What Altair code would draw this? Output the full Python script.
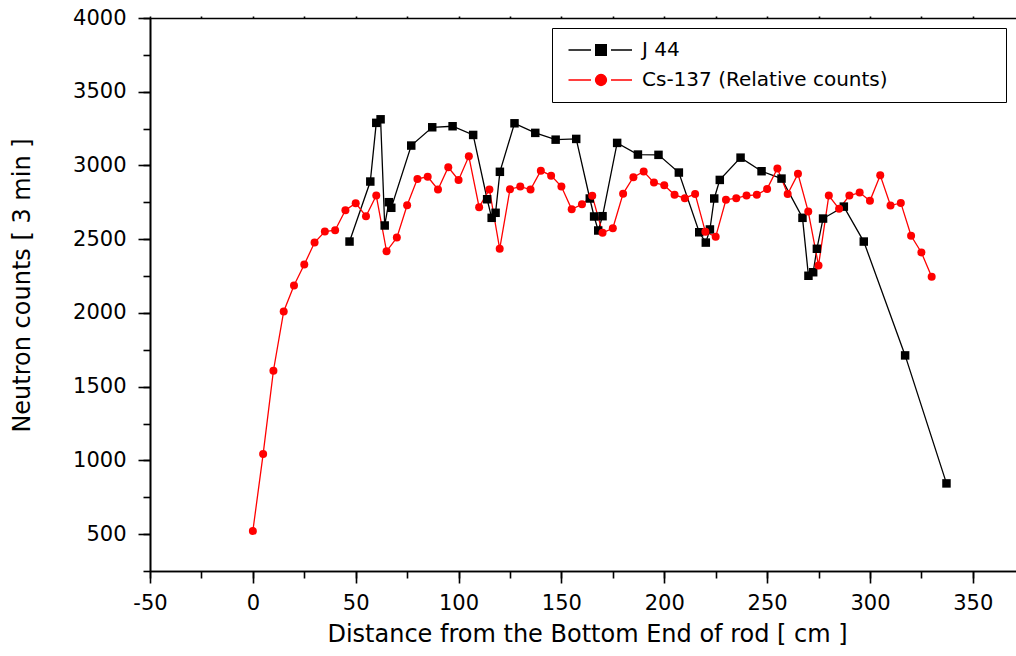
import altair as alt
import pandas as pd

FONT = "DejaVu Sans"

# ---- data ----
series_names = ["J 44", "Cs-137 (Relative counts)"]
series_colors = ["black", "#ff0000"]

j44_x = [47.0, 57.1, 60.0, 62.1, 64.1, 66.1, 67.3, 77.0, 87.2, 97.1, 107.1,
         113.9, 116.1, 118.0, 120.1, 127.2, 137.3, 147.2, 157.2, 163.8, 165.9,
         167.9, 170.0, 177.1, 187.2, 197.2, 207.1, 217.0, 220.2, 222.2, 224.3,
         227.0, 237.1, 247.3, 257.0, 267.2, 270.1, 272.4, 274.2, 277.2, 287.3,
         297.0, 317.1, 337.2]
j44_y = [2484, 2891, 3289, 3313, 2593, 2751, 2713, 3135, 3259, 3266, 3207,
         2771, 2645, 2679, 2957, 3286, 3221, 3175, 3180, 2776, 2654,
         2559, 2656, 3153, 3074, 3072, 2952, 2547, 2477, 2566, 2776,
         2902, 3053, 2961, 2911, 2645, 2252, 2276, 2435, 2640, 2721,
         2484, 1712, 844]

cs_x = [0, 5, 10, 15, 20, 25, 30, 35, 40, 45, 50, 55, 60, 65, 70, 75, 80, 85,
        90, 95, 100, 105, 110, 115, 120, 125, 130, 135, 140, 145, 150, 155,
        160, 165, 170, 175, 180, 185, 190, 195, 200, 205, 210, 215, 220, 225,
        230, 235, 240, 245, 250, 255, 260, 265, 270, 275, 280, 285, 290, 295,
        300, 305, 310, 315, 320, 325, 330]
cs_y = [521, 1043, 1608, 2010, 2186, 2328, 2477, 2552, 2561, 2696, 2744, 2656,
        2796, 2418, 2511, 2730, 2909, 2923, 2837, 2988, 2902, 3062, 2717, 2837,
        2435, 2839, 2857, 2837, 2965, 2931, 2857, 2703, 2737, 2794, 2543, 2574,
        2809, 2920, 2959, 2884, 2866, 2801, 2778, 2807, 2550, 2516, 2767, 2778,
        2796, 2801, 2841, 2979, 2807, 2943, 2687, 2322, 2796, 2706, 2796, 2816,
        2760, 2933, 2728, 2746, 2523, 2410, 2245]

x_major_ticks = [-50, 0, 50, 100, 150, 200, 250, 300, 350]
x_minor_ticks = [-50, -25, 0, 25, 50, 75, 100, 125, 150, 175, 200, 225, 250,
                 275, 300, 325, 350]
y_major_ticks = [500, 1000, 1500, 2000, 2500, 3000, 3500, 4000]
y_minor_ticks = [250, 500, 750, 1000, 1250, 1500, 1750, 2000, 2250, 2500,
                 2750, 3000, 3250, 3500, 3750, 4000]

df_j = pd.DataFrame({"x": j44_x, "y": j44_y, "series": series_names[0]})
df_c = pd.DataFrame({"x": cs_x, "y": cs_y, "series": series_names[1]})
df_all = pd.concat([df_j, df_c], ignore_index=True)

xscale = alt.Scale(domain=[-50, 371], nice=False, zero=False)
yscale = alt.Scale(domain=[250, 4000], nice=False, zero=False)

common_axis = dict(grid=False, domainColor="black", domainWidth=1.6,
                   tickColor="black", tickWidth=1.6)
plain_label = "'' + datum.value"

x_minor = alt.Axis(orient="bottom", values=x_minor_ticks, labels=False,
                   tickSize=7, **common_axis)
x_major = alt.Axis(orient="bottom", values=x_major_ticks, tickSize=12,
                   labelFont=FONT, labelFontSize=21, labelColor="black",
                   labelPadding=9, labelFlush=False, labelOverlap=False,
                   labelExpr=plain_label,
                   titleFont=FONT, titleFontSize=24, titleFontWeight="normal",
                   titleColor="black", titleX=437, titleY=63,
                   titleBaseline="middle", titleAlign="center",
                   **common_axis)
x_top = alt.Axis(orient="top", values=x_minor_ticks, labels=False,
                 tickSize=2, **common_axis)
y_minor = alt.Axis(orient="left", values=y_minor_ticks, labels=False,
                   tickSize=7, **common_axis)
y_major = alt.Axis(orient="left", values=y_major_ticks, tickSize=12,
                   labelFont=FONT, labelFontSize=21, labelColor="black",
                   labelPadding=12, labelFlush=False, labelOverlap=False,
                   labelExpr=plain_label,
                   titleFont=FONT, titleFontSize=24, titleFontWeight="normal",
                   titleColor="black", titleX=-128, titleY=267,
                   titleAngle=-90, titleBaseline="middle", titleAlign="center",
                   **common_axis)

# legend symbols: line - marker - line
path_sq = "M-6.5,0H-2M-1.07,-1.07H1.07V1.07H-1.07ZM2,0H6.2"
path_ci = "M-6.5,0H-2M1.1,0A1.1,1.1,0,1,1,-1.1,0A1.1,1.1,0,1,1,1.1,0ZM2,0H6.2"

legend = alt.Legend(
    title="\u2002", titleOrient="right", titlePadding=106, titleFontSize=20,
    orient="none", legendX=402, legendY=10,
    strokeColor="black", padding=12, rowPadding=10,
    labelFont=FONT, labelFontSize=20, labelColor="black", labelLimit=600,
    symbolSize=100, symbolOffset=27, labelOffset=31, symbolStrokeWidth=1.3,
    symbolOpacity=1,
)

line_j = alt.Chart(df_j).mark_line(color="black", strokeWidth=1.3).encode(
    x=alt.X("x:Q", scale=xscale, axis=x_minor, title=None),
    y=alt.Y("y:Q", scale=yscale, axis=y_minor, title=None),
)
line_c = alt.Chart(df_c).mark_line(color="#ff0000", strokeWidth=1.3).encode(
    x=alt.X("x:Q", scale=xscale, axis=x_top, title=None),
    y=alt.Y("y:Q", scale=yscale, axis=None),
)
pts_j = alt.Chart(df_j).mark_square(color="black", size=72, opacity=1).encode(
    x=alt.X("x:Q", scale=xscale, axis=x_major,
            title="Distance from the Bottom End of rod [ cm ]"),
    y=alt.Y("y:Q", scale=yscale, axis=y_major,
            title="Neutron counts [ 3 min ]"),
)
pts_c = alt.Chart(df_c).mark_circle(color="#ff0000", size=64, opacity=1).encode(
    x=alt.X("x:Q", scale=xscale, axis=None),
    y=alt.Y("y:Q", scale=yscale, axis=None),
)
legend_layer = (
    alt.Chart(df_all)
    .transform_filter("false")
    .mark_point(filled=True, strokeWidth=1.3, opacity=1)
    .encode(
        x=alt.X("x:Q", scale=xscale, axis=None),
        y=alt.Y("y:Q", scale=yscale, axis=None),
        fill=alt.Fill("series:N", scale=alt.Scale(domain=series_names,
                      range=series_colors), legend=legend),
        stroke=alt.Stroke("series:N", scale=alt.Scale(domain=series_names,
                          range=series_colors), legend=legend),
        shape=alt.Shape("series:N", scale=alt.Scale(domain=series_names,
                        range=[path_sq, path_ci]), legend=legend),
    )
)

chart = (
    alt.layer(line_j, line_c, pts_j, pts_c, legend_layer)
    .resolve_axis(x="independent", y="independent")
    .properties(width=866, height=553,
                autosize=alt.AutoSizeParams(type="none"),
                padding={"left": 150, "top": 18, "right": 0, "bottom": 85},
                background="white")
    .configure_view(strokeWidth=0)
)

chart.save("out.html", embed_options={"renderer": "svg", "actions": False})
